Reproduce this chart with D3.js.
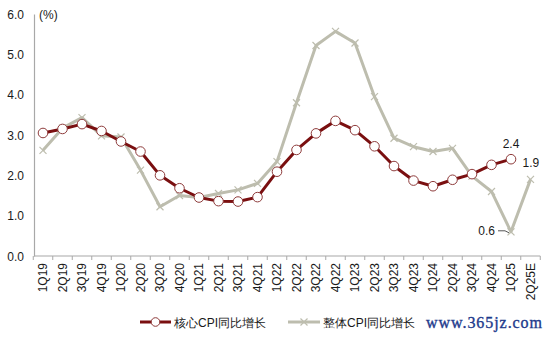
<!DOCTYPE html>
<html>
<head>
<meta charset="utf-8">
<script src="https://cdn.jsdelivr.net/npm/d3@7"></script>
<style>
  html, body { margin: 0; padding: 0; background: #fff; }
  svg { display: block; font-family: "Liberation Sans", Arial, sans-serif; }
</style>
</head>
<body>
<svg id="chart" width="550" height="338"></svg>
<script>
// Quarterly CPI growth, year over year (%)
const quarters = ["1Q19","2Q19","3Q19","4Q19","1Q20","2Q20","3Q20","4Q20","1Q21","2Q21","3Q21","4Q21",
  "1Q22","2Q22","3Q22","4Q22","1Q23","2Q23","3Q23","4Q23","1Q24","2Q24","3Q24","4Q24","1Q25","2Q25E"];
const coreCPI = [3.05,3.15,3.27,3.1,2.84,2.59,2.0,1.68,1.45,1.36,1.35,1.46,
  2.09,2.63,3.04,3.35,3.12,2.72,2.23,1.87,1.73,1.89,2.03,2.26,2.4,null];
const headlineCPI = [2.62,3.17,3.43,2.98,2.95,2.13,1.22,1.5,1.45,1.55,1.64,1.8,
  2.34,3.8,5.22,5.57,5.28,3.95,2.92,2.71,2.59,2.67,1.98,1.6,0.6,1.9];
const yTicks = [0,1,2,3,4,5,6];
const seriesNames = ["核心CPI同比增长","整体CPI同比增长"];

const coreColor = "#7a0f10";
const headColor = "#bdbdae";

const svg = d3.select("#chart");
const x = d3.scalePoint().domain(quarters).range([43, 530.5]);
const step = x.step();
const y = d3.scaleLinear().domain([0, 6]).range([256, 14]);

// Y axis
const yAxis = d3.axisLeft(y).tickValues(yTicks).tickFormat(d3.format(".1f")).tickSize(0).tickPadding(10);
const gy = svg.append("g").attr("transform", "translate(34,0)").call(yAxis);
gy.select(".domain").attr("stroke", "#a8a8a8").attr("stroke-width", 1.2);
gy.selectAll("text").attr("font-size", 12).attr("fill", "#1a1a1a").attr("dy", "0.36em");

svg.append("text").attr("x", 39).attr("y", 19).attr("font-size", 12).attr("fill", "#1a1a1a").text("(%)");

// X axis: category boundaries carry the tick marks
const xBand = d3.scaleBand().domain(quarters).range([x(quarters[0]) - step / 2, x(quarters[quarters.length - 1]) + step / 2]);
const gx = svg.append("g").attr("transform", `translate(0,${y(0)})`);
gx.append("line").attr("x1", 34).attr("x2", xBand.range()[1]).attr("stroke", "#a8a8a8").attr("stroke-width", 1.2);
gx.selectAll("line.tick").data(quarters.map(q => xBand(q)).concat([xBand.range()[1]])).enter()
  .append("line").attr("class", "tick").attr("x1", d => d).attr("x2", d => d).attr("y1", 0).attr("y2", 4)
  .attr("stroke", "#a8a8a8");
gx.selectAll("text").data(quarters).enter().append("text")
  .attr("transform", d => `translate(${x(d) + 4},7) rotate(-90)`)
  .attr("text-anchor", "end").attr("font-size", 12).attr("fill", "#1a1a1a").text(d => d);

// Headline CPI
const line = d3.line().defined(d => d.v != null).x(d => x(d.q)).y(d => y(d.v));
const headData = quarters.map((q, i) => ({ q, v: headlineCPI[i] }));
const coreData = quarters.map((q, i) => ({ q, v: coreCPI[i] }));

svg.append("path").datum(headData).attr("d", line).attr("fill", "none")
  .attr("stroke", headColor).attr("stroke-width", 3).attr("stroke-linejoin", "round");
const cross = 3.5;
svg.append("g").selectAll("path").data(headData.filter(d => d.v != null)).enter().append("path")
  .attr("d", d => {
    const cx = x(d.q), cy = y(d.v);
    return `M${cx - cross},${cy - cross}L${cx + cross},${cy + cross}M${cx - cross},${cy + cross}L${cx + cross},${cy - cross}`;
  })
  .attr("stroke", headColor).attr("stroke-width", 1.2);

// Core CPI
svg.append("path").datum(coreData).attr("d", line).attr("fill", "none")
  .attr("stroke", coreColor).attr("stroke-width", 3).attr("stroke-linejoin", "round");
svg.append("g").selectAll("circle").data(coreData.filter(d => d.v != null)).enter().append("circle")
  .attr("cx", d => x(d.q)).attr("cy", d => y(d.v)).attr("r", 4.8)
  .attr("fill", "#fff").attr("stroke", "#8e3b3b").attr("stroke-width", 1);

// Value labels
const last = quarters.length - 1;
svg.append("text").attr("x", x(quarters[last - 1])).attr("y", y(coreCPI[last - 1]) - 11)
  .attr("text-anchor", "middle").attr("font-size", 12).attr("fill", "#1a1a1a").text(coreCPI[last - 1].toFixed(1));
svg.append("text").attr("x", x(quarters[last]) - 8).attr("y", y(headlineCPI[last]) - 12)
  .attr("font-size", 12).attr("fill", "#1a1a1a").text(headlineCPI[last].toFixed(1));
const lowX = x(quarters[last - 1]), lowY = y(headlineCPI[last - 1]);
svg.append("text").attr("x", lowX - 16).attr("y", lowY + 3)
  .attr("text-anchor", "end").attr("font-size", 12).attr("fill", "#1a1a1a").text(headlineCPI[last - 1].toFixed(1));
svg.append("path").attr("d", `M${lowX - 13},${lowY - 1}L${lowX - 6},${lowY - 1}L${lowX - 2},${lowY + 1}`)
  .attr("fill", "none").attr("stroke", "#555").attr("stroke-width", 1);

// Legend
const lg = svg.append("g").attr("transform", "translate(0,322)");
lg.append("line").attr("x1", 140).attr("x2", 171).attr("stroke", coreColor).attr("stroke-width", 3);
lg.append("circle").attr("cx", 155.5).attr("cy", 0).attr("r", 4.3).attr("fill", "#fff").attr("stroke", "#8e3b3b");
lg.append("text").attr("x", 174).attr("y", 4.5).attr("font-size", 12).attr("fill", "#1a1a1a").text(seriesNames[0]);
lg.append("line").attr("x1", 288).attr("x2", 320).attr("stroke", headColor).attr("stroke-width", 3);
lg.append("path").attr("d", `M${304 - cross},${-cross}L${304 + cross},${cross}M${304 - cross},${cross}L${304 + cross},${-cross}`)
  .attr("stroke", headColor).attr("stroke-width", 1.2);
lg.append("text").attr("x", 323).attr("y", 4.5).attr("font-size", 12).attr("fill", "#1a1a1a").text(seriesNames[1]);
lg.append("text").attr("x", 426).attr("y", 5.5).attr("font-size", 16)
  .attr("textLength", 116).attr("lengthAdjust", "spacing")
  .attr("font-family", "'Liberation Serif', serif").attr("fill", "#1d3a8c")
  .attr("stroke", "#1d3a8c").attr("stroke-width", 0.35).text("www.365jz.com");
</script>
</body>
</html>
